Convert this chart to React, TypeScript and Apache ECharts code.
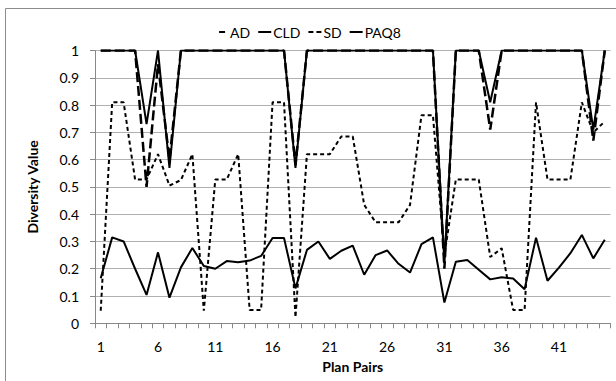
import React, { useEffect, useRef } from "react";
import * as echarts from "echarts";

const categories = [
  "1","2","3","4","5","6","7","8","9","10","11","12","13","14","15",
  "16","17","18","19","20","21","22","23","24","25","26","27","28","29","30",
  "31","32","33","34","35","36","37","38","39","40","41","42","43","44","45",
];

const adValues = [
  1, 1, 1, 1, 0.5, 0.95, 0.6, 1, 1, 1, 1, 1, 1, 1, 1,
  1, 1, 0.58, 1, 1, 1, 1, 1, 1, 1, 1, 1, 1, 1, 1,
  0.2, 1, 1, 1, 0.71, 1, 1, 1, 1, 1, 1, 1, 1, 0.67, 1,
];

const cldValues = [
  0.165, 0.315, 0.3, 0.2, 0.104, 0.26, 0.094, 0.205, 0.276, 0.21, 0.2, 0.228, 0.224, 0.23, 0.247,
  0.313, 0.313, 0.128, 0.269, 0.3, 0.236, 0.266, 0.285, 0.178, 0.25, 0.267, 0.218, 0.186, 0.29, 0.315,
  0.076, 0.226, 0.232, 0.196, 0.161, 0.169, 0.164, 0.125, 0.314, 0.156, 0.204, 0.257, 0.324, 0.238, 0.306,
];

const sdValues = [
  0.046, 0.81, 0.81, 0.527, 0.527, 0.62, 0.505, 0.525, 0.62, 0.046, 0.527, 0.527, 0.62, 0.049, 0.049,
  0.81, 0.81, 0.022, 0.62, 0.62, 0.62, 0.685, 0.685, 0.434, 0.37, 0.37, 0.37, 0.434, 0.763, 0.763,
  0.25, 0.527, 0.527, 0.527, 0.243, 0.275, 0.049, 0.049, 0.81, 0.527, 0.527, 0.527, 0.81, 0.7, 0.74,
];

const paq8Values = [
  1, 1, 1, 1, 0.73, 1, 0.57, 1, 1, 1, 1, 1, 1, 1, 1,
  1, 1, 0.57, 1, 1, 1, 1, 1, 1, 1, 1, 1, 1, 1, 1,
  0.22, 1, 1, 1, 0.81, 1, 1, 1, 1, 1, 1, 1, 1, 0.71, 1,
];

const yTicks = [0, 0.1, 0.2, 0.3, 0.4, 0.5, 0.6, 0.7, 0.8, 0.9, 1];

const FONT = "Lato, 'Open Sans', sans-serif";

const ICON_SOLID = "path://M0,0h13v2h-13z";
const ICON_AD = "path://M4,0h6v2h-6z M13,0h0.01v0.01h-0.01z M0,0h0.01v0.01h-0.01z";
const ICON_SD = "path://M0,0h5v2h-5z M8,0h5v2h-5z";

export default function App() {
  const ref = useRef<HTMLDivElement>(null);
  useEffect(() => {
    if (!ref.current) return;
    const chart = echarts.init(ref.current, null, { renderer: "svg" });
    chart.setOption({
      animation: false,
      backgroundColor: "#ffffff",
      textStyle: { fontFamily: FONT },
      graphic: [
        {
          type: "rect",
          shape: { x: 5.5, y: 8.5, width: 700, height: 500 },
          style: { fill: "none", stroke: "#8c8c8c", lineWidth: 1 },
          silent: true,
        },
      ],
      legend: {
        data: [
          { name: "AD", icon: ICON_AD },
          { name: "CLD", icon: ICON_SOLID },
          { name: "SD", icon: ICON_SD },
          { name: "PAQ8", icon: ICON_SOLID },
        ],
        top: 20,
        left: "center",
        itemWidth: 13,
        itemHeight: 2,
        itemGap: 8,
        itemStyle: { color: "#000", borderWidth: 0 },
        lineStyle: { width: 0, type: "solid", opacity: 0 },
        textStyle: { fontFamily: FONT, fontSize: 14, color: "#000", padding: [0, 0, 0, -3] },
      },
      grid: { left: 95, right: 5.5, top: 50.5, bottom: 57.7, containLabel: false },
      xAxis: {
        type: "category",
        data: categories,
        boundaryGap: true,
        name: "Plan Pairs",
        nameLocation: "middle",
        nameGap: 36,
        nameTextStyle: { fontFamily: FONT, fontSize: 14, fontWeight: "bold", color: "#000" },
        axisLine: { lineStyle: { color: "#888", width: 1 } },
        axisTick: { show: true, interval: 0, length: 5, lineStyle: { color: "#888" } },
        axisLabel: { interval: 4, margin: 16, fontSize: 14, color: "#000", fontFamily: FONT },
        splitLine: { show: false },
      },
      yAxis: {
        type: "value",
        min: 0,
        max: 1,
        interval: 0.1,
        name: "Diversity Value",
        nameLocation: "middle",
        nameGap: 56,
        nameTextStyle: { fontFamily: FONT, fontSize: 14, fontWeight: "bold", color: "#000" },
        axisLine: { show: true, lineStyle: { color: "#888", width: 1 } },
        axisTick: { show: true, length: 5, lineStyle: { color: "#888" } },
        axisLabel: {
          margin: 16,
          fontSize: 14,
          color: "#000",
          fontFamily: FONT,
          formatter: (v: number) => {
            const t = yTicks.find((x) => Math.abs(x - v) < 1e-6);
            return t === undefined ? "" : String(Math.round(t * 10) / 10);
          },
        },
        splitLine: { show: true, lineStyle: { color: "#b0b0b0", width: 1 } },
      },
      series: [
        {
          name: "CLD",
          type: "line",
          data: cldValues,
          symbol: "none",
          lineStyle: { color: "#000", width: 2 },
          itemStyle: { color: "#000" },
        },
        {
          name: "SD",
          type: "line",
          data: sdValues,
          symbol: "none",
          lineStyle: { color: "#000", width: 2, type: [4, 3] },
          itemStyle: { color: "#000" },
        },
        {
          name: "AD",
          type: "line",
          data: adValues,
          symbol: "none",
          lineStyle: { color: "#000", width: 2.5, type: [10, 4] },
          itemStyle: { color: "#000" },
        },
        {
          name: "PAQ8",
          type: "line",
          data: paq8Values,
          symbol: "none",
          lineStyle: { color: "#000", width: 2 },
          itemStyle: { color: "#000" },
        },
      ],
    });
    return () => chart.dispose();
  }, []);
  return (
    <div
      ref={ref}
      style={{ position: "fixed", left: 0, top: 0, width: 616, height: 381, background: "#fff" }}
    />
  );
}
